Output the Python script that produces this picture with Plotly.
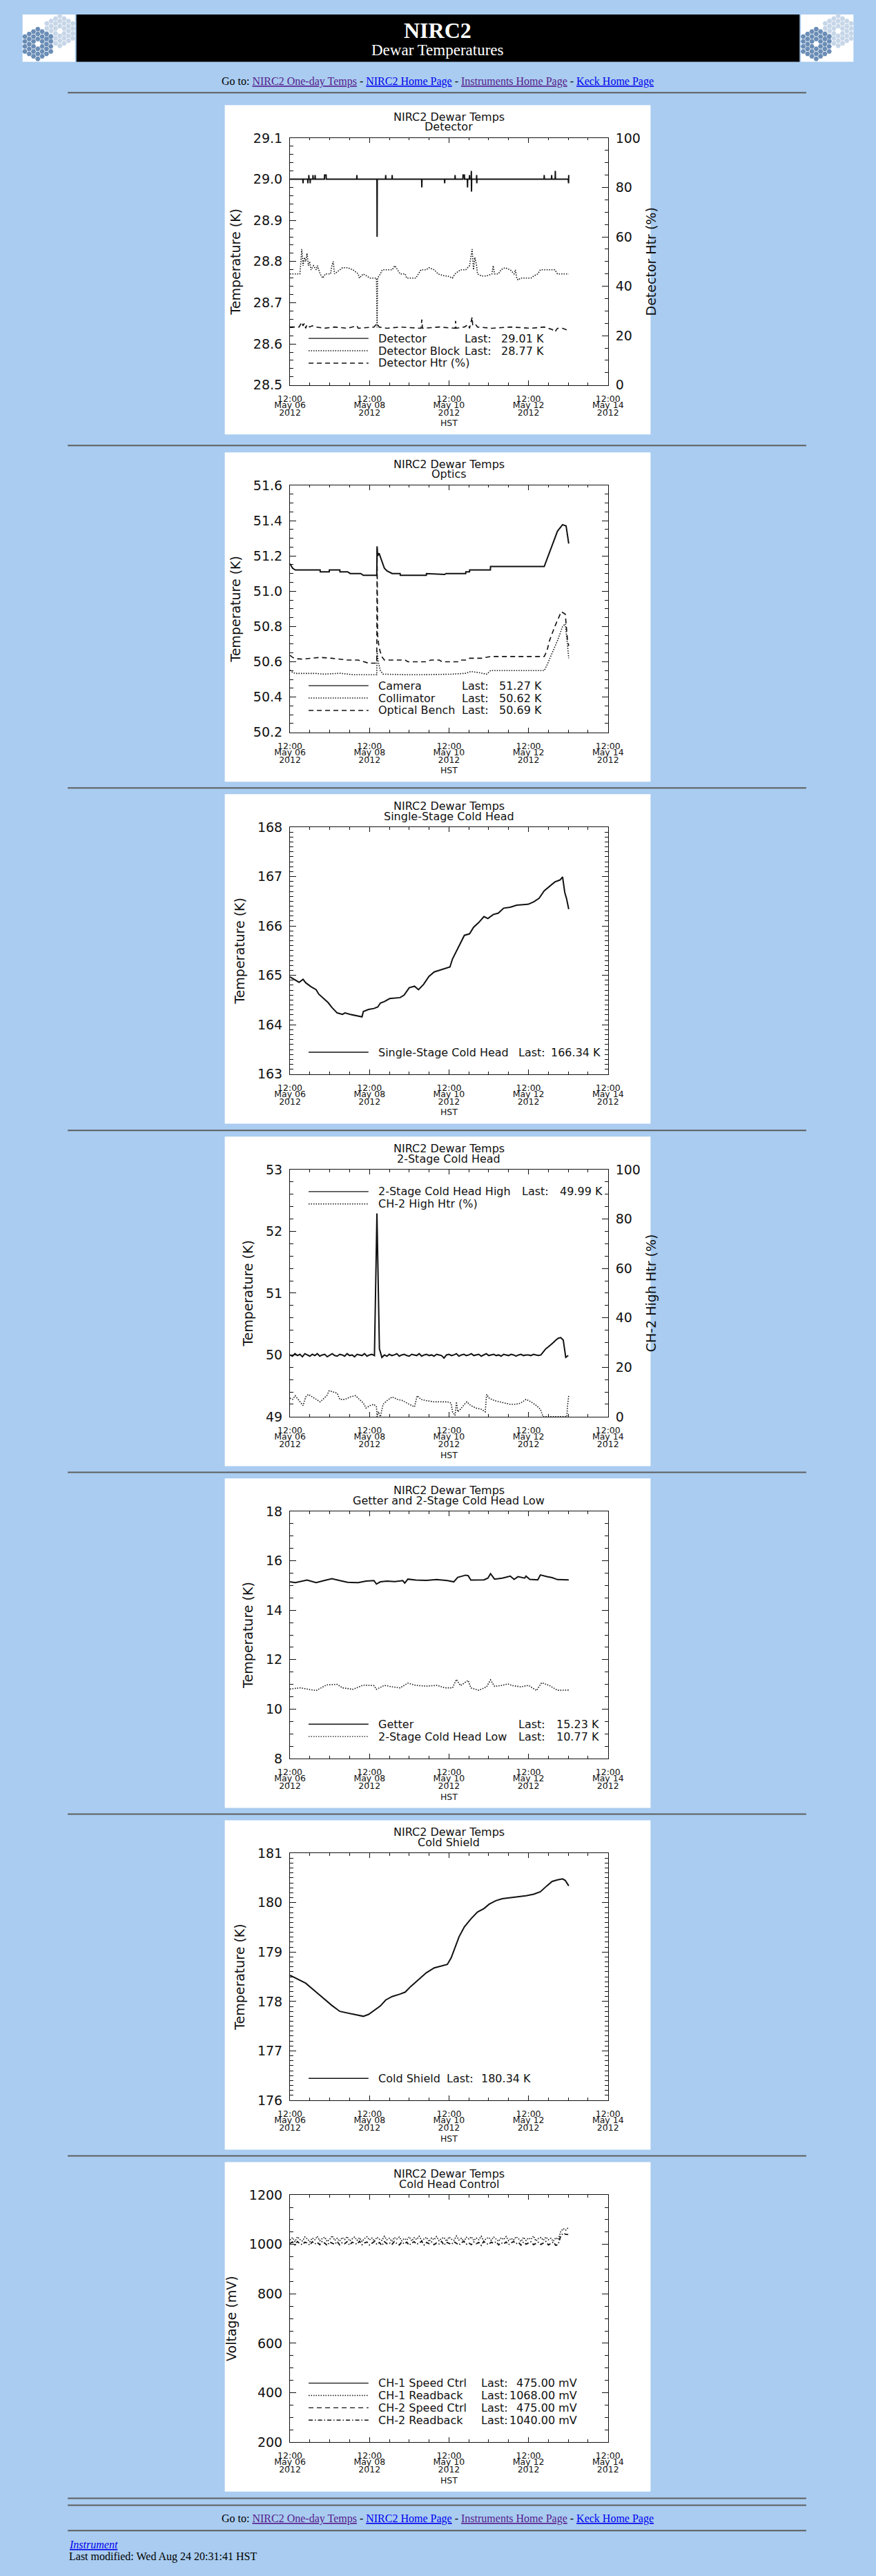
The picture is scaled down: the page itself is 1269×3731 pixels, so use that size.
import plotly.graph_objects as go
import pandas as pd

W, H = 1269, 3731
PAGE_BG = "#A9CCF0"
INK = "#111111"
SANS = "DejaVu Sans"
SERIF = "Liberation Serif"

# ---------------- axis / tick labels ----------------
T_START = pd.Timestamp("2012-05-06 12:00")
T_END = pd.Timestamp("2012-05-14 12:00")
TICK_DATES = ["2012-05-06 12:00", "2012-05-08 12:00", "2012-05-10 12:00",
              "2012-05-12 12:00", "2012-05-14 12:00"]
TICK_TIME = ["12:00", "12:00", "12:00", "12:00", "12:00"]
TICK_MONTH = ["May 06", "May 08", "May 10", "May 12", "May 14"]
TICK_YEAR = ["2012", "2012", "2012", "2012", "2012"]
X_TITLE = "HST"
PLOT_TITLE = "NIRC2 Dewar Temps"
SUBTITLES = ["Detector", "Optics", "Single-Stage Cold Head", "2-Stage Cold Head",
             "Getter and 2-Stage Cold Head Low", "Cold Shield", "Cold Head Control"]

# ---------------- data (hours after 2012-05-06 12:00 HST) ----------------
# Detector
DET_H = [0.0,
         7.8, 7.9, 8.0, 10.7, 10.8, 10.9, 11.3, 11.4, 11.5,
         12.1, 12.2, 12.3, 13.8, 13.9, 14.0, 15.1, 15.2, 15.3,
         20.8, 20.9, 21.8, 21.9, 40.3, 40.4, 40.5, 52.5, 52.6, 52.7,
         57.7, 57.8, 57.9, 61.6, 61.7, 61.8, 79.5, 79.6, 79.7,
         93.3, 93.4, 93.5, 99.6, 99.7, 99.8, 104.4, 104.5, 105.3, 105.4,
         107.1, 107.2, 107.3, 108.3, 108.4, 108.5, 109.4, 109.5, 109.6, 109.7,
         112.6, 112.7, 112.8, 112.9, 153.4, 153.5, 153.6, 157.9, 158.0, 158.1,
         160.1, 160.2, 160.3, 168.0, 168.1, 168.2, 168.3]
DET_V = [29.00,
         29.00, 28.99, 29.00, 29.00, 28.99, 29.00, 29.00, 29.01, 29.00,
         29.00, 28.99, 29.00, 29.00, 29.01, 29.00, 29.00, 29.01, 29.00,
         29.00, 29.01, 29.01, 29.00, 29.00, 29.01, 29.00, 29.00, 28.86, 29.00,
         29.00, 29.01, 29.00, 29.00, 29.01, 29.00, 29.00, 28.98, 29.00,
         29.00, 28.99, 29.00, 29.00, 29.01, 29.00, 29.00, 29.01, 29.01, 29.00,
         29.00, 28.98, 29.00, 29.00, 29.01, 29.00, 29.00, 29.02, 28.97, 29.00,
         29.00, 29.01, 28.99, 29.00, 29.00, 29.01, 29.00, 29.00, 29.01, 29.00,
         29.00, 29.02, 29.00, 29.00, 29.01, 28.99, 29.01]
# Detector Block
BLK_H = [0, 3.2, 6.0, 6.6, 7.1, 7.9, 8.7, 9.5, 10.3, 11.1,
         11.9, 12.7, 14.2, 15.8, 16.6, 18.2, 19.8, 21.4, 23.0, 24.5,
         25.3, 26.1, 26.9, 30.1, 31.7, 34.8, 38.0, 41.2, 41.9, 44.3,
         48.3, 52.2, 52.6, 52.9, 54.6, 55.7, 58.6, 61.7, 63.3, 64.9,
         66.5, 69.6, 70.4, 76.0, 77.6, 79.1, 82.3, 83.9, 87.1, 89.4,
         93.4, 95.0, 98.1, 99.7, 102.9, 106.1, 108.4, 110.0, 110.8, 111.6,
         112.7, 113.2, 115.6, 118.7, 121.9, 122.7, 123.5, 125.8, 127.4, 129.8,
         133.0, 135.3, 136.1, 136.9, 137.7, 139.3, 145.6, 147.2, 149.6, 151.2,
         153.5, 156.7, 159.9, 161.5, 164.6, 168.3]
BLK_V = [28.77, 28.77, 28.77, 28.80, 28.83, 28.79, 28.81, 28.80, 28.82, 28.79,
         28.80, 28.78, 28.79, 28.78, 28.79, 28.77, 28.76, 28.77, 28.77, 28.77,
         28.79, 28.80, 28.77, 28.78, 28.785, 28.785, 28.78, 28.77, 28.76, 28.77,
         28.76, 28.76, 28.64, 28.76, 28.77, 28.78, 28.78, 28.78, 28.79, 28.78,
         28.77, 28.77, 28.76, 28.76, 28.77, 28.78, 28.78, 28.785, 28.78, 28.77,
         28.765, 28.765, 28.76, 28.77, 28.78, 28.78, 28.79, 28.83, 28.78, 28.81,
         28.79, 28.77, 28.765, 28.765, 28.77, 28.79, 28.77, 28.77, 28.78, 28.785,
         28.78, 28.77, 28.78, 28.76, 28.755, 28.76, 28.76, 28.765, 28.77, 28.78,
         28.78, 28.78, 28.78, 28.77, 28.77, 28.77]
# Detector heater (%)
HTR_H = [0, 5.5, 7.1, 7.9, 8.7, 9.5, 10.3, 11.9, 13.5, 15.8,
         20.6, 26.9, 34.8, 40.4, 41.2, 50.7, 52.6, 53.8, 58.6, 66.5,
         79.1, 79.6, 80.0, 90.2, 99.7, 100.0, 100.3, 105.3, 107.6, 108.4,
         110.0, 110.3, 111.6, 113.2, 121.9, 133.0, 145.6, 153.5, 158.3, 159.9,
         161.5, 164.6, 168.3]
HTR_V = [23.5, 23.5, 25.5, 24.0, 25.0, 23.0, 24.5, 23.5, 24.0, 23.5,
         23.0, 23.5, 23.0, 24.0, 23.0, 23.5, 25.0, 23.5, 23.0, 23.5,
         23.0, 26.5, 23.0, 23.5, 23.0, 26.0, 23.0, 23.5, 24.5, 23.0,
         27.5, 24.5, 25.0, 23.5, 23.0, 23.5, 23.0, 23.5, 22.5, 21.5,
         23.0, 23.0, 22.0]
# Optics
CAM_H = [0, 1.6, 3.2, 18.2, 18.3, 23.7, 23.8, 30.1, 30.2, 34.8,
         36.4, 42.7, 44.3, 52.4, 52.6, 52.9, 53.8, 55.4, 57.0, 58.6,
         61.7, 66.5, 66.6, 82.3, 82.4, 93.4, 94.2, 106.1, 106.2, 108.4,
         108.5, 121.0, 121.1, 153.5, 158.3, 161.5, 164.6, 166.7, 168.3]
CAM_V = [51.156, 51.13, 51.12, 51.12, 51.11, 51.11, 51.12, 51.12, 51.11, 51.11,
         51.10, 51.10, 51.09, 51.09, 51.254, 51.20, 51.215, 51.17, 51.13, 51.115,
         51.10, 51.10, 51.09, 51.09, 51.10, 51.095, 51.10, 51.10, 51.11, 51.11,
         51.12, 51.12, 51.14, 51.14, 51.26, 51.34, 51.377, 51.37, 51.27]
COL_H = [0, 1.6, 3.2, 15.8, 20.6, 30.1, 38.0, 44.3, 52.4, 52.6,
         53.3, 54.6, 56.2, 69.6, 80.7, 98.1, 106.1, 109.2, 113.2, 118.7,
         121.1, 123.5, 153.5, 155.1, 158.3, 161.5, 164.6, 166.2, 167.5, 168.3]
COL_V = [50.553, 50.54, 50.534, 50.534, 50.53, 50.535, 50.527, 50.527, 50.527, 50.66,
         50.60, 50.55, 50.53, 50.527, 50.527, 50.53, 50.535, 50.545, 50.54, 50.53,
         50.55, 50.55, 50.55, 50.58, 50.65, 50.72, 50.80, 50.815, 50.70, 50.62]
OPT_H = [0, 1.6, 3.2, 7.9, 12.7, 18.2, 25.3, 30.1, 34.8, 41.2,
         44.3, 47.5, 52.4, 52.6, 52.9, 53.8, 55.4, 57.0, 63.3, 69.6,
         71.2, 82.3, 85.0, 90.2, 91.8, 101.3, 102.9, 106.1, 108.4, 115.6,
         121.1, 153.5, 155.1, 156.7, 159.9, 163.8, 166.2, 166.7, 167.5, 168.3]
OPT_V = [50.637, 50.625, 50.618, 50.615, 50.62, 50.625, 50.62, 50.615, 50.61, 50.61,
         50.60, 50.592, 50.592, 51.25, 50.75, 50.68, 50.63, 50.61, 50.61, 50.61,
         50.60, 50.60, 50.61, 50.61, 50.60, 50.60, 50.61, 50.61, 50.62, 50.62,
         50.63, 50.63, 50.66, 50.72, 50.80, 50.884, 50.87, 50.80, 50.73, 50.69]
# Single-stage cold head
SS_H = [0, 3.2, 5.5, 7.9, 9.5, 12.7, 15.8, 17.4, 20.6, 23.0,
        25.3, 28.5, 31.7, 33.2, 36.4, 39.6, 42.7, 43.5, 44.3, 47.5,
        50.7, 53.0, 54.6, 57.0, 60.2, 63.3, 66.5, 68.9, 72.0, 75.2,
        77.6, 80.7, 83.9, 87.1, 90.2, 93.4, 96.6, 98.1, 100.5, 102.9,
        105.3, 108.4, 110.8, 114.0, 117.1, 119.5, 122.7, 125.8, 129.0, 133.0,
        136.9, 140.9, 144.0, 147.2, 150.4, 153.5, 156.7, 159.9, 163.0, 164.6,
        165.9, 167.0, 168.3]
SS_V = [164.97, 164.90, 164.86, 164.92, 164.85, 164.77, 164.71, 164.62, 164.53, 164.45,
        164.35, 164.24, 164.21, 164.24, 164.21, 164.19, 164.17, 164.16, 164.27, 164.31,
        164.33, 164.36, 164.44, 164.47, 164.53, 164.54, 164.55, 164.60, 164.75, 164.78,
        164.71, 164.82, 164.98, 165.07, 165.10, 165.13, 165.17, 165.33, 165.49, 165.65,
        165.81, 165.84, 165.97, 166.07, 166.19, 166.15, 166.23, 166.26, 166.36, 166.38,
        166.42, 166.43, 166.44, 166.49, 166.56, 166.71, 166.80, 166.89, 166.93, 166.99,
        166.68, 166.55, 166.34]
# 2-stage cold head high (sampled every 90 min)
HI_V = [50.00, 49.98, 50.02, 49.99, 50.01, 49.97, 50.02, 50.00, 49.98, 50.01,
        49.99, 50.02, 49.98, 50.00, 50.01, 49.97, 50.00, 50.02, 49.99, 49.98,
        50.01, 50.00, 49.98, 50.02, 49.99, 50.00, 49.97, 50.01, 50.00, 49.99,
        50.02, 49.98, 50.00, 50.01, 49.99, 52.29, 50.10, 49.96,
        50.00, 49.98, 50.01, 49.99, 50.00, 50.02, 49.98, 50.00, 50.01, 49.99, 49.98, 50.01,
        50.00, 49.99, 50.02, 49.98, 50.00, 50.01, 49.99, 50.00, 49.98, 50.01, 50.00, 49.99,
        49.95,
        50.00, 50.01, 49.99, 50.00, 50.02, 49.98, 50.00, 50.01, 49.99, 50.00,
        50.02, 49.99, 50.00, 50.01, 49.98, 50.00, 50.02, 49.99, 50.00, 50.01,
        49.99, 50.00, 49.98, 50.01, 50.00, 49.99, 50.01, 50.00, 49.98, 50.00,
        50.01, 49.99, 50.00, 50.00, 49.99, 50.01, 50.00, 49.99, 50.00,
        50.05, 50.10, 50.13, 50.16, 50.20, 50.24, 50.27, 50.28, 50.24, 49.96, 49.99]
H2_H = [0, 1.6, 3.2, 6.3, 7.9, 9.5, 11.1, 13.5, 15.8, 18.2,
        20.6, 22.2, 23.7, 26.1, 28.5, 30.1, 33.2, 36.4, 39.6, 41.9,
        44.3, 45.9, 48.3, 50.7, 52.2, 52.6, 53.3, 54.6, 56.2, 58.6,
        61.7, 64.9, 68.1, 72.0, 75.2, 76.8, 79.1, 82.3, 87.1, 91.8,
        95.0, 97.3, 98.1, 99.7, 100.5, 101.3, 102.9, 105.3, 106.8, 109.2,
        112.4, 115.6, 117.9, 118.7, 120.3, 123.5, 126.6, 129.8, 133.0, 136.1,
        139.3, 142.5, 145.6, 148.8, 151.2, 152.8, 167.2, 167.5, 168.3]
H2_V = [7.5, 7.0, 8.5, 6.0, 4.5, 8.0, 9.0, 8.0, 7.0, 6.0,
        7.5, 8.5, 10.5, 10.0, 9.5, 7.0, 7.0, 8.0, 8.5, 7.0,
        5.5, 3.5, 4.5, 5.0, 4.0, 0.0, 2.0, 0.0, 5.0, 6.5,
        8.0, 7.0, 6.5, 5.0, 4.0, 8.5, 7.0, 6.5, 6.0, 6.0,
        6.0, 5.5, 2.0, 0.5, 6.0, 2.0, 3.0, 5.0, 6.0, 4.5,
        3.5, 3.0, 2.0, 9.0, 7.5, 6.5, 6.0, 5.5, 5.0, 5.0,
        5.5, 7.0, 6.0, 4.5, 3.0, 0.0, 0.0, 4.0, 8.5]
# Getter and 2-stage low
GET_H = [0, 3.2, 10.3, 15.8, 20.6, 25.3, 30.1, 34.8, 41.2, 45.9,
         50.7, 52.2, 54.6, 58.6, 63.3, 68.1, 69.3, 71.2, 76.0, 82.3,
         88.6, 95.0, 98.9, 101.3, 106.1, 107.6, 109.2, 117.1, 119.5, 121.1,
         123.5, 128.2, 133.0, 135.3, 137.7, 141.7, 142.5, 144.8, 149.6, 151.2,
         155.1, 158.3, 161.5, 168.3]
GET_V = [15.15, 15.12, 15.22, 15.12, 15.20, 15.28, 15.20, 15.13, 15.12, 15.18,
         15.20, 15.06, 15.15, 15.18, 15.16, 15.20, 15.10, 15.26, 15.22, 15.21,
         15.24, 15.20, 15.15, 15.33, 15.42, 15.40, 15.22, 15.23, 15.30, 15.48,
         15.26, 15.30, 15.38, 15.25, 15.36, 15.30, 15.38, 15.25, 15.23, 15.43,
         15.36, 15.32, 15.24, 15.23]
LOW_H = [0, 6.3, 11.1, 15.8, 22.2, 28.5, 31.7, 38.0, 44.3, 50.7,
         52.2, 57.0, 61.7, 66.5, 71.2, 76.0, 82.3, 88.6, 93.4, 98.1,
         100.5, 102.9, 107.6, 109.2, 114.0, 118.7, 121.1, 123.5, 128.2, 131.4,
         134.5, 139.3, 144.0, 148.8, 152.0, 156.7, 161.5, 168.3]
LOW_V = [10.81, 10.86, 10.80, 10.75, 10.98, 11.00, 10.86, 10.80, 10.97, 10.95,
         10.80, 10.96, 10.90, 10.86, 11.05, 10.96, 10.93, 10.96, 10.86, 10.86,
         11.20, 10.95, 11.16, 10.86, 10.76, 10.90, 11.18, 10.92, 10.96, 11.02,
         10.95, 10.90, 10.96, 10.75, 11.07, 10.95, 10.76, 10.77]
# Cold shield
CS_H = [0, 3.2, 9.5, 15.8, 20.6, 25.3, 30.1, 34.8, 39.6, 44.3,
        47.5, 50.7, 54.6, 57.8, 61.7, 66.5, 69.6, 72.8, 77.6, 82.3,
        87.1, 91.8, 95.0, 97.3, 99.7, 102.1, 105.3, 109.2, 113.2, 117.1,
        120.3, 124.3, 128.2, 133.0, 137.7, 142.5, 147.2, 151.2, 155.1, 158.3,
        161.5, 164.6, 166.2, 168.3]
CS_V = [178.53, 178.48, 178.37, 178.19, 178.05, 177.92, 177.80, 177.77, 177.74, 177.70,
        177.74, 177.82, 177.91, 178.03, 178.10, 178.15, 178.19, 178.30, 178.44, 178.58,
        178.68, 178.72, 178.75, 178.88, 179.09, 179.31, 179.51, 179.67, 179.81, 179.88,
        179.97, 180.04, 180.08, 180.10, 180.11, 180.14, 180.17, 180.22, 180.34, 180.43,
        180.46, 180.48, 180.45, 180.34]
# Cold head control readbacks (mV, sampled every 90 min)
RB1_V = [1018, 1028, 1012, 1031, 1020, 1014, 1030, 1022, 1011, 1026,
         1019, 1033, 1015, 1024, 1029, 1012, 1021, 1035, 1016, 1025,
         1013, 1028, 1020, 1032, 1014, 1023, 1030, 1017, 1027, 1012,
         1024, 1031, 1018, 1026, 1013, 1029, 1021, 1016, 1033, 1019,
         1025, 1012, 1028, 1022, 1030, 1015, 1024, 1018, 1031, 1014,
         1027, 1020, 1033, 1016, 1023, 1029, 1012, 1026, 1019, 1032,
         1015, 1024, 1028, 1013, 1030, 1021, 1017, 1034, 1018, 1025,
         1012, 1029, 1022, 1031, 1016, 1026, 1019, 1033, 1014, 1024,
         1028, 1017, 1030, 1021, 1013, 1027, 1020, 1032, 1015, 1025,
         1018, 1031, 1023, 1012, 1029, 1016, 1026, 1021, 1034, 1014,
         1024, 1028, 1017, 1030, 1019, 1025, 1013, 1027, 1020,
         1052, 1064, 1058, 1068]
RB2_V = [1004, 1010, 998, 1012, 1003, 999, 1009, 1006, 997, 1011,
         1002, 1008, 999, 1013, 1005, 996, 1010, 1004, 1000, 1012,
         998, 1007, 1003, 1011, 997, 1009, 1005, 1001, 1013, 999,
         1006, 1010, 998, 1004, 1012, 1000, 1008, 996, 1011, 1003,
         1007, 999, 1012, 1004, 998, 1010, 1002, 1009, 997, 1006,
         1011, 1001, 1005, 1013, 998, 1008, 1003, 1010, 999, 1006,
         1002, 1012, 997, 1009, 1004, 1000, 1011, 1005, 998, 1007,
         1013, 1001, 1006, 999, 1010, 1003, 1008, 996, 1012, 1004,
         1000, 1009, 1005, 1011, 998, 1007, 1002, 1010, 999, 1006,
         1012, 1003, 1008, 997, 1010, 1001, 1005, 1011, 999, 1004,
         1009, 1000, 1006, 1012, 998, 1003, 1010, 996, 1001,
         1036, 1045, 1041, 1040]

# ---------------- page geometry (pixels) ----------------
PANEL_TOPS = [142, 648, 1146, 1645, 2143, 2641, 3139]
PANEL_L, PANEL_R, PANEL_H = 314, 954, 480
BOX_L, BOX_R = 412, 890
BOX_TOP_OFF, BOX_BOT_OFF = 48, 408
HR_YS = [124, 638, 1137, 1636, 2134, 2632, 3130, 3629, 3639, 3676]
HR_X = (78, 1188)
LINE_GAP = 11.5
LBL_SO = 8
LEG_FONT = 16

DASH = {"solid": "solid", "dot": "1.5px,2px", "dash": "7px,5px", "dashdot": "6px,3px,1.5px,3px"}
WIDTH = {"solid": 2.0, "dot": 1.6, "dash": 1.6, "dashdot": 1.8}


def fx(px):
    return px / W


def fy(py):
    return 1 - py / H


def at_hours(hours):
    return [T_START + pd.Timedelta(hours=h) for h in hours]


def every_90min(values):
    return list(pd.date_range(T_START, periods=len(values), freq="90min"))


def axname(letter, i):
    return letter if i == 1 else f"{letter}{i}"


def axkey(letter, i):
    return f"{letter}axis" if i == 1 else f"{letter}axis{i}"


CHARTS = [
    dict(yrange=[28.5, 29.1], dtick=0.1, minor=0.02, fmt=".1f", ytitle="Temperature (K)",
         right=dict(title="Detector Htr (%)", range=[0, 100], dtick=20, minor=5),
         series=[(at_hours(DET_H), DET_V, "solid", "L"),
                 (at_hours(BLK_H), BLK_V, "dot", "L"),
                 (at_hours(HTR_H), HTR_V, "dash", "R")],
         legend=[("Detector", "Last:", "29.01 K", "solid"),
                 ("Detector Block", "Last:", "28.77 K", "dot"),
                 ("Detector Htr (%)", "", "", "dash")],
         leg_pos="bottom", last_x=672, val_x=727, val_anchor="left"),
    dict(yrange=[50.2, 51.6], dtick=0.2, minor=0.05, fmt=".1f", ytitle="Temperature (K)", right=None,
         series=[(at_hours(CAM_H), CAM_V, "solid", "L"),
                 (at_hours(COL_H), COL_V, "dot", "L"),
                 (at_hours(OPT_H), OPT_V, "dash", "L")],
         legend=[("Camera", "Last:", "51.27 K", "solid"),
                 ("Collimator", "Last:", "50.62 K", "dot"),
                 ("Optical Bench", "Last:", "50.69 K", "dash")],
         leg_pos="bottom", last_x=668, val_x=724, val_anchor="left"),
    dict(yrange=[163, 168], dtick=1, minor=0.1, fmt="d", ytitle="Temperature (K)", right=None,
         series=[(at_hours(SS_H), SS_V, "solid", "L")],
         legend=[("Single-Stage Cold Head", "Last:", "166.34 K", "solid")],
         leg_pos="bottom", last_x=753, val_x=802, val_anchor="left"),
    dict(yrange=[49, 53], dtick=1, minor=0.2, fmt="d", ytitle="Temperature (K)",
         right=dict(title="CH-2 High Htr (%)", range=[0, 100], dtick=20, minor=5),
         series=[(every_90min(HI_V), HI_V, "solid", "L"),
                 (at_hours(H2_H), H2_V, "dot", "R")],
         legend=[("2-Stage Cold Head High", "Last:", "49.99 K", "solid"),
                 ("CH-2 High Htr (%)", "", "", "dot")],
         leg_pos="top", last_x=759, val_x=816, val_anchor="left"),
    dict(yrange=[8, 18], dtick=2, minor=0.5, fmt="d", ytitle="Temperature (K)", right=None,
         series=[(at_hours(GET_H), GET_V, "solid", "L"),
                 (at_hours(LOW_H), LOW_V, "dot", "L")],
         legend=[("Getter", "Last:", "15.23 K", "solid"),
                 ("2-Stage Cold Head Low", "Last:", "10.77 K", "dot")],
         leg_pos="bottom", last_x=753, val_x=810, val_anchor="left"),
    dict(yrange=[176, 181], dtick=1, minor=0.1, fmt="d", ytitle="Temperature (K)", right=None,
         series=[(at_hours(CS_H), CS_V, "solid", "L")],
         legend=[("Cold Shield", "Last:", "180.34 K", "solid")],
         leg_pos="bottom", last_x=645, val_x=697, val_anchor="left"),
    dict(yrange=[200, 1200], dtick=200, minor=50, fmt="d", ytitle="Voltage (mV)", right=None,
         series=[(every_90min(RB1_V), RB1_V, "dot", "L"),
                 (every_90min(RB2_V), RB2_V, "dashdot", "L")],
         legend=[("CH-1 Speed Ctrl", "Last:", "475.00 mV", "solid"),
                 ("CH-1 Readback", "Last:", "1068.00 mV", "dot"),
                 ("CH-2 Speed Ctrl", "Last:", "475.00 mV", "dash"),
                 ("CH-2 Readback", "Last:", "1040.00 mV", "dashdot")],
         leg_pos="bottom", last_x=697, val_x=846, val_anchor="right"),
]

fig = go.Figure()
layout = {}
shapes = []
annotations = []


def ann(x, y, text, size, family=SANS, color=INK, xanchor="center"):
    annotations.append(dict(x=fx(x), y=fy(y), xref="paper", yref="paper", text=text,
                            showarrow=False, xanchor=xanchor, yanchor="middle",
                            font=dict(family=family, size=size, color=color)))


def rect(x0, y0, x1, y1, color, layer="below"):
    shapes.append(dict(type="rect", xref="paper", yref="paper", x0=fx(x0), x1=fx(x1),
                       y0=fy(y1), y1=fy(y0), fillcolor=color, line=dict(width=0), layer=layer))


# ---------------- page decoration ----------------
for hy in HR_YS:
    rect(HR_X[0], hy - 1, HR_X[1], hy + 1, "#5E5E5E")
for pt in PANEL_TOPS:
    rect(PANEL_L, pt, PANEL_R, pt + PANEL_H, "white")
LOGO_X = [10, 1180]
for lx in LOGO_X:
    rect(lx, 10, lx + 79, 79, "white")
rect(91, 10, 1178, 79, "black")
ann(634, 33, "<b>NIRC2</b>", 32, family=SERIF, color="white")
ann(634, 62, "Dewar Temperatures", 23, family=SERIF, color="white")

LINKS = ["NIRC2 One-day Temps", "NIRC2 Home Page", "Instruments Home Page", "Keck Home Page"]
LINK_COLORS = ["#551A8B", "#0000EE", "#551A8B", "#0000EE"]
link_text = "Go to: " + " - ".join(
    f'<span style="color:{c};text-decoration:underline">{t}</span>' for t, c in zip(LINKS, LINK_COLORS))
ann(634, 108, link_text, 16, family=SERIF, color="black")
ann(634, 3659, link_text, 16, family=SERIF, color="black")
ann(78, 3696, '<i><span style="color:#0000EE;text-decoration:underline">Instrument</span></i>',
    16, family=SERIF, color="#0000EE", xanchor="left")
ann(78, 3714, "Last modified: Wed Aug 24 20:31:41 HST", 16, family=SERIF, color="black", xanchor="left")

# ---------------- charts ----------------
axis_common = dict(showgrid=False, zeroline=False, fixedrange=True)
xi, yi = 1, 1
for c, ch in enumerate(CHARTS):
    pt = PANEL_TOPS[c]
    bt, bb = pt + BOX_TOP_OFF, pt + BOX_BOT_OFF
    xa, xmo, xye = xi, xi + 1, xi + 2
    ya = yi
    yr = yi + 1 if ch["right"] else None
    xi += 3
    yi += 2 if ch["right"] else 1
    dom = [fx(BOX_L), fx(BOX_R)]

    layout[axkey("x", xa)] = dict(
        axis_common, domain=dom, anchor=axname("y", ya), type="date", range=[T_START, T_END],
        tickmode="array", tickvals=TICK_DATES, ticktext=TICK_TIME,
        ticks="inside", ticklen=7, tickwidth=1, tickcolor=INK,
        showline=True, linecolor=INK, linewidth=1.2, mirror="ticks",
        minor=dict(ticks="inside", ticklen=3.5, tickwidth=1, tickcolor=INK, tickmode="linear",
                   tick0=TICK_DATES[0], dtick=12 * 3600 * 1000),
        tickfont=dict(family=SANS, size=12.5, color=INK), ticklabelstandoff=LBL_SO)
    for k, (ai, txt) in enumerate([(xmo, TICK_MONTH), (xye, TICK_YEAR)]):
        d = dict(axis_common, domain=dom, overlaying=axname("x", xa), anchor="free",
                 position=fy(bb + LINE_GAP * (k + 1)), type="date", range=[T_START, T_END],
                 tickmode="array", tickvals=TICK_DATES, ticktext=txt, ticks="", showline=False,
                 tickfont=dict(family=SANS, size=12.5, color=INK), ticklabelstandoff=LBL_SO)
        if k == 1:
            d["title"] = dict(text=X_TITLE, font=dict(family=SANS, size=12.5, color=INK), standoff=4)
        layout[axkey("x", ai)] = d
        fig.add_trace(go.Scatter(x=[T_START], y=[ch["yrange"][0]], mode="markers",
                                 marker=dict(size=1, opacity=0), xaxis=axname("x", ai),
                                 yaxis=axname("y", ya), showlegend=False, hoverinfo="skip"))

    layout[axkey("y", ya)] = dict(
        axis_common, domain=[fy(bb), fy(bt)], anchor=axname("x", xa), range=ch["yrange"],
        tickmode="linear", tick0=ch["yrange"][0], dtick=ch["dtick"], tickformat=ch["fmt"],
        ticks="inside", ticklen=9, tickwidth=1, tickcolor=INK,
        showline=True, linecolor=INK, linewidth=1.2, mirror=False if ch["right"] else "ticks",
        minor=dict(ticks="inside", ticklen=4.5, tickwidth=1, tickcolor=INK, tickmode="linear",
                   tick0=ch["yrange"][0], dtick=ch["minor"]),
        tickfont=dict(family=SANS, size=19, color=INK), ticklabelstandoff=6,
        title=dict(text=ch["ytitle"], font=dict(family=SANS, size=19, color=INK), standoff=13))
    if ch["right"]:
        r = ch["right"]
        layout[axkey("y", yr)] = dict(
            axis_common, overlaying=axname("y", ya), side="right", anchor=axname("x", xa),
            range=r["range"], tickmode="linear", tick0=r["range"][0], dtick=r["dtick"],
            ticks="inside", ticklen=9, tickwidth=1, tickcolor=INK,
            showline=True, linecolor=INK, linewidth=1.2,
            minor=dict(ticks="inside", ticklen=4.5, tickwidth=1, tickcolor=INK, tickmode="linear",
                       tick0=r["range"][0], dtick=r["minor"]),
            tickfont=dict(family=SANS, size=19, color=INK), ticklabelstandoff=6,
            title=dict(text=r["title"], font=dict(family=SANS, size=19, color=INK), standoff=9))

    for xs, ys, dash, side in ch["series"]:
        fig.add_trace(go.Scatter(
            x=xs, y=ys, mode="lines",
            line=dict(color=INK, width=WIDTH[dash], dash=DASH[dash]),
            xaxis=axname("x", xa), yaxis=axname("y", ya if side == "L" else yr),
            showlegend=False, hoverinfo="skip"))

    # chart titles
    cx = (BOX_L + BOX_R) / 2
    ann(cx, pt + 17, PLOT_TITLE, 16)
    ann(cx, pt + 32, SUBTITLES[c], 16)

    # IDL-style legend inside the plot box
    n = len(ch["legend"])
    for k, (label, last, val, dash) in enumerate(ch["legend"]):
        if ch["leg_pos"] == "bottom":
            ry = bb - 32 - 18 * (n - 1 - k)
        else:
            ry = bt + 32 + 18 * k
        shapes.append(dict(type="line", xref="paper", yref="paper", x0=fx(440), x1=fx(530),
                           y0=fy(ry), y1=fy(ry), layer="above",
                           line=dict(color=INK, width=1.4, dash=DASH[dash])))
        ann(543, ry, label, LEG_FONT, xanchor="left")
        if last:
            ann(ch["last_x"], ry, last, LEG_FONT, xanchor="left")
            ann(ch["val_x"], ry, val, LEG_FONT, xanchor=ch["val_anchor"])

# ---------------- hexagon logos (full-page overlay axis) ----------------
px_i, py_i = xi, yi
layout[axkey("x", px_i)] = dict(domain=[0, 1], range=[0, W], visible=False, fixedrange=True,
                                anchor=axname("y", py_i))
layout[axkey("y", py_i)] = dict(domain=[0, 1], range=[H, 0], visible=False, fixedrange=True,
                                anchor=axname("x", px_i))


def hex_cluster(cx, cy):
    xs, ys = [], []
    for q in range(-3, 4):
        for r in range(-3, 4):
            if max(abs(q), abs(r), abs(q + r)) > 3 or (q == 0 and r == 0):
                continue
            xs.append(cx + q * 6.5)
            ys.append(cy + (r + q / 2) * 7.2)
    return xs, ys


for lx in LOGO_X:
    for (ox, oy), col in [((56, 24), "#C6D6E8"), ((23, 43), "#6A8DB6")]:
        hx, hy = hex_cluster(lx + ox, 10 + oy)
        fig.add_trace(go.Scatter(x=hx, y=hy, mode="markers",
                                 marker=dict(symbol="hexagon2", size=7.5, color=col, line=dict(width=0)),
                                 xaxis=axname("x", px_i), yaxis=axname("y", py_i),
                                 showlegend=False, hoverinfo="skip", cliponaxis=False))

fig.update_layout(
    width=W, height=H, autosize=False,
    margin=dict(l=0, r=0, t=0, b=0, pad=0),
    paper_bgcolor=PAGE_BG, plot_bgcolor="rgba(0,0,0,0)",
    showlegend=False, shapes=shapes, annotations=annotations,
    font=dict(family=SANS, color=INK),
    **layout)

fig.write_html("out.html", config={"displayModeBar": False},
               post_script="document.body.style.margin='0';document.body.style.overflow='hidden';")
